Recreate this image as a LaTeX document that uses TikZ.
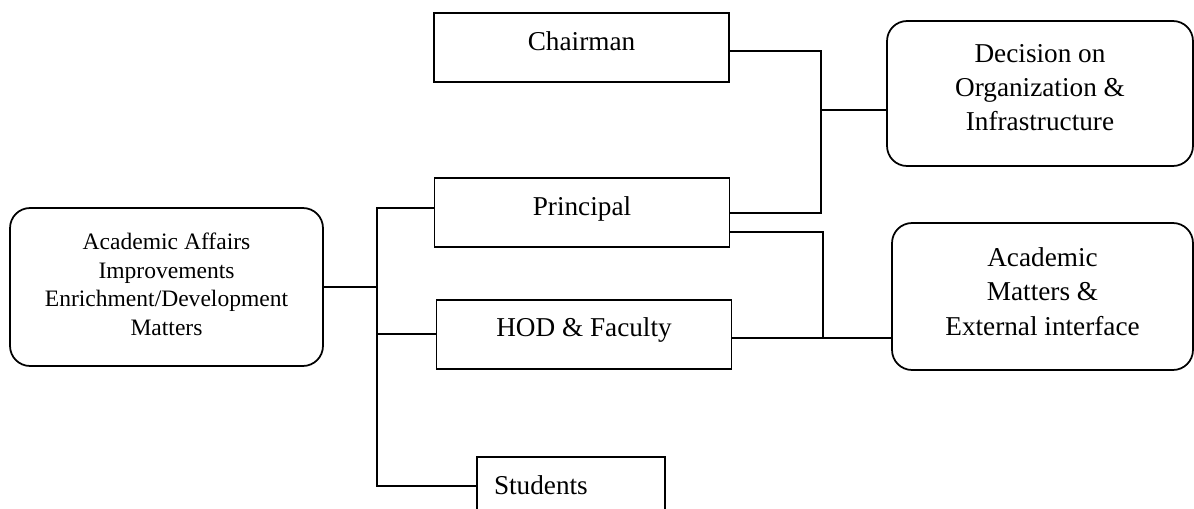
\documentclass[tikz,border=0pt]{standalone}
\usepackage{fontspec}
\setmainfont{Liberation Serif}
\usetikzlibrary{calc}
% lines of a rounded box, with extra depth below to lift them a little
\newcommand{\boxlines}[2][0pt]{\raisebox{0pt}[\height][\dimexpr\depth+#1\relax]{\begin{tabular}{@{}c@{}}#2\end{tabular}}}

\begin{document}
\begin{tikzpicture}[x=0.02cm,y=-0.02cm,line width=1pt,
    post/.style={draw,rectangle,minimum width=5.9cm,minimum height=1.38cm,inner sep=0pt,
        font=\fontsize{15.5}{19.6}\selectfont,text height=11pt,text depth=8pt},
    role/.style={draw,rectangle,rounded corners=0.4cm,inner sep=0pt,
        font=\fontsize{15.5}{19.6}\selectfont},
]
        \useasboundingbox (0,0) rectangle (1194,508);
        \clip (0,0) rectangle (1194,508);
        \node[post] (chairman) at (581.5,47.5) {Chairman};
        \node[post] (principal) at (582,212.5) {Principal};
        \node[post] (hod) at (584,334.2) {HOD \& Faculty};
        \node[post,minimum width=3.76cm,text width=3.08cm,inner xsep=0.34cm,align=left] (students) at (571,491.5) {Students};
        \node[role,minimum width=6.26cm,minimum height=3.16cm,font=\fontsize{13.4}{16.4}\selectfont] (affairs) at (166.5,287) {\boxlines[0.3pt]{Academic Affairs\\Improvements\\Enrichment/Development\\Matters}};
        \node[role,minimum width=6.12cm,minimum height=2.9cm] (decision) at (1040,93.5) {\boxlines[4.5pt]{Decision on\\Organization \&\\Infrastructure}};
        \node[role,minimum width=6.02cm,minimum height=2.94cm] (academic) at (1042.5,296.5) {\boxlines[2.8pt]{Academic\\Matters \&\\External interface}};
        % joints of the connectors
        \coordinate (sptop) at (377,208);
        \coordinate (spbot) at (377,486);
        \coordinate (cj) at (821,51);
        \coordinate (pj) at (821,213);
        \coordinate (dj) at (821,110);
        \coordinate (aj) at (823,232);
        \coordinate (hj) at (823,338);
        \draw (sptop -| principal.west) -- (sptop) -- (spbot) -- (spbot -| students.west);
        \draw (affairs.east) -- (affairs.east -| sptop);
        \draw (hod.west -| sptop) -- (hod.west);
        \draw (cj -| chairman.east) -- (cj) -- (pj) -- (pj -| principal.east);
        \draw (dj) -- (dj -| decision.west);
        \draw (aj -| principal.east) -- (aj) -- (hj);
        \draw (hj -| hod.east) -- (hj -| academic.west);
    \end{tikzpicture}
\end{document}
